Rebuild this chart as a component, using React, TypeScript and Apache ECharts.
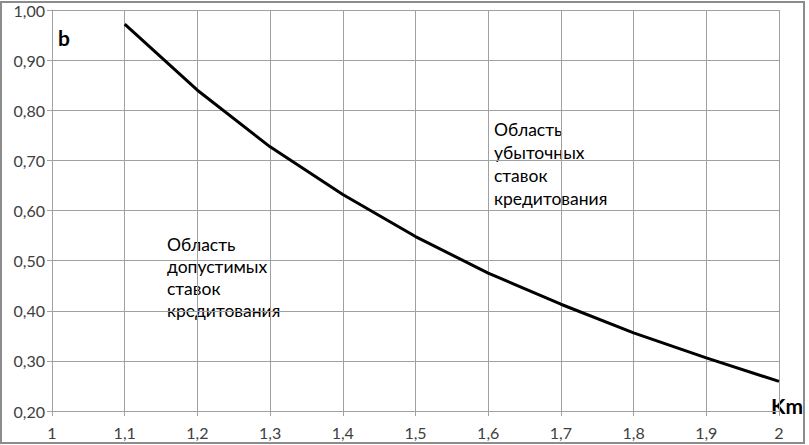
import React, { useEffect, useRef } from "react";
import * as echarts from "echarts";

const kmValues = [1.1, 1.2, 1.3, 1.4, 1.5, 1.6, 1.7, 1.8, 1.9, 2.0];
const bValues = [0.972, 0.84, 0.727, 0.632, 0.548, 0.475, 0.413, 0.356, 0.306, 0.259];
const leftRegion = ["Область", "допустимых", "ставок", "кредитования"];
const rightRegion = ["Область", "убыточных", "ставок", "кредитования"];
const yName = "b";
const xName = "Km";

const FONT = "Lato, 'Noto Sans', sans-serif";

export default function App() {
  const ref = useRef<HTMLDivElement>(null);
  useEffect(() => {
    if (!ref.current) return;
    const chart = echarts.init(ref.current, undefined, { renderer: "svg" });
    const data = kmValues.map((k, i) => [k, bValues[i]]);
    const gridColor = "#a0a0a0";
    chart.setOption({
      animation: false,
      backgroundColor: "#ffffff",
      grid: { left: 52, right: 30, top: 10, bottom: 34, containLabel: false },
      xAxis: {
        type: "value",
        min: 1,
        max: 2,
        interval: 0.1,
        axisLine: { show: true, lineStyle: { color: gridColor, width: 1 } },
        axisTick: { show: true, length: 5, lineStyle: { color: gridColor } },
        splitLine: { show: true, lineStyle: { color: gridColor, width: 1 } },
        axisLabel: {
          color: "#404040",
          fontFamily: FONT,
          fontSize: 16,
          margin: 13,
          formatter: (v: number) => String(Number(v.toFixed(1))).replace(".", ","),
        },
      },
      yAxis: {
        type: "value",
        min: 0.2,
        max: 1,
        interval: 0.1,
        axisLine: { show: true, lineStyle: { color: gridColor, width: 1 } },
        axisTick: { show: true, length: 5, lineStyle: { color: gridColor } },
        splitLine: { show: true, lineStyle: { color: gridColor, width: 1 } },
        axisLabel: {
          color: "#404040",
          fontFamily: FONT,
          fontSize: 16,
          margin: 7,
          formatter: (v: number) => v.toFixed(2).replace(".", ","),
        },
      },
      series: [
        {
          type: "line",
          data,
          showSymbol: false,
          symbol: "none",
          smooth: false,
          lineStyle: { color: "#000000", width: 3 },
        },
      ],
      graphic: [
        {
          type: "rect",
          shape: { x: 1, y: 2, width: 803, height: 441 },
          style: { fill: "none", stroke: "#8c8c8c", lineWidth: 2 },
          silent: true,
        },
        {
          type: "text",
          x: 58,
          y: 37,
          style: { text: yName, font: `bold 21px ${FONT}`, fill: "#000", verticalAlign: "middle" },
        },
        {
          type: "text",
          x: 803,
          y: 405,
          style: { text: xName, font: `bold 21px ${FONT}`, fill: "#000", align: "right", verticalAlign: "middle" },
        },
        {
          type: "text",
          x: 167,
          y: 233,
          style: { text: leftRegion.join("\n"), font: `17.5px ${FONT}`, fill: "#000", lineHeight: 22 },
        },
        {
          type: "text",
          x: 494,
          y: 118,
          style: { text: rightRegion.join("\n"), font: `17.5px ${FONT}`, fill: "#000", lineHeight: 23 },
        },
      ],
    });
    return () => chart.dispose();
  }, []);
  return (
    <div
      ref={ref}
      style={{ position: "fixed", left: 0, top: 0, width: 809, height: 445 }}
    />
  );
}
